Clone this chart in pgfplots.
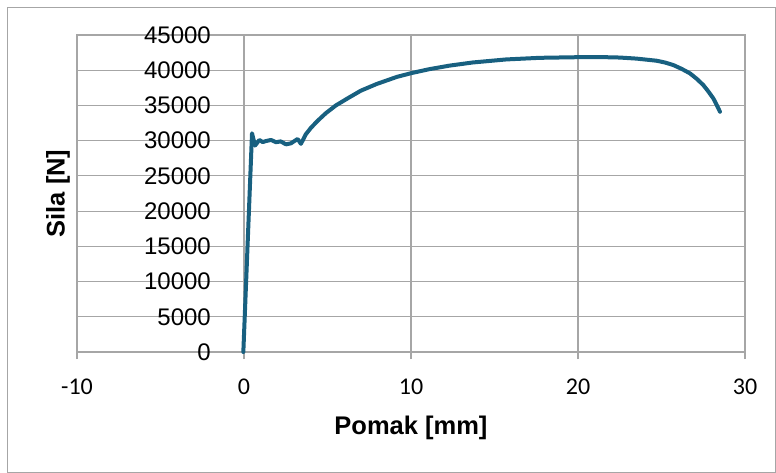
\documentclass[border=0pt]{standalone}
\usepackage{pgfplots}
\pgfplotsset{compat=1.18}
\usepackage{fontspec}
\setmainfont{Liberation Sans}
\newfontfamily\carlito{Carlito}
\definecolor{curve}{RGB}{24,96,128}
\definecolor{gridc}{RGB}{166,166,166}
\begin{document}
\begin{tikzpicture}
\useasboundingbox (0,0) rectangle (776bp,473bp);
\fill[white] (0,0) rectangle (776bp,473bp);
\draw[gridc, line width=1bp] (7.3bp,1bp) rectangle (775bp,465bp);
\begin{axis}[
 at={(77bp,121bp)}, anchor=south west,
 scale only axis, width=668bp, height=317bp,
 xmin=-10, xmax=30, ymin=0, ymax=45000,
 scaled x ticks=false, scaled y ticks=false,
 xtick={-10,0,10,20,30}, xticklabels={-10,0,10,20,30},
 ytick={0,5000,10000,15000,20000,25000,30000,35000,40000,45000},
 yticklabels={0,5000,10000,15000,20000,25000,30000,35000,40000,45000},
 xtick pos=left,
 grid=major, grid style={gridc, line width=1.1bp},
 axis line style={gridc, line width=1.1bp},
 tick align=outside, major tick length=7bp,
 xtick style={gridc, line width=1.1bp},
 ytick style={draw=none},
 xticklabel style={font=\carlito\fontsize{24bp}{28bp}\selectfont, anchor=north, inner sep=0pt, yshift=-20bp},
 yticklabel style={font=\fontsize{24bp}{28bp}\selectfont, anchor=east, inner sep=0pt, xshift=141bp},
 xlabel={Pomak [mm]}, ylabel={Sila [N]},
 label style={font=\bfseries\fontsize{25.5bp}{30bp}\selectfont},
 xlabel style={at={(axis description cs:0.5,-0.2397)}, anchor=center},
 ylabel style={at={(axis description cs:-0.02844,0.5)}, anchor=center, rotate=0},
 clip=false,
]
\addplot[curve, line width=4bp, line join=round, line cap=round] coordinates {
(-0.04,0) (0.48,31050) (0.66,29300) (0.92,30100) (1.12,29800) (1.32,29950)
(1.62,30100) (1.92,29780) (2.2,29900) (2.51,29480) (2.81,29620) (3.21,30240)
(3.41,29550) (3.7,30900) (4.0,31800) (4.4,32800) (4.9,33900) (5.5,35000)
(6.2,36000) (7.0,37100) (7.95,38050) (9.15,39050) (10.04,39600) (11.1,40150) (12.3,40650)
(13.7,41100) (15.7,41530) (17.7,41760) (20,41850) (21.3,41870) (22.5,41800)
(23.5,41650) (24.7,41350) (25.2,41100) (25.7,40740) (26.2,40200) (26.7,39560)
(27.1,38800) (27.5,37900) (27.8,37000) (28.1,36010) (28.3,35100) (28.5,34110)
};
\end{axis}
\end{tikzpicture}
\end{document}
